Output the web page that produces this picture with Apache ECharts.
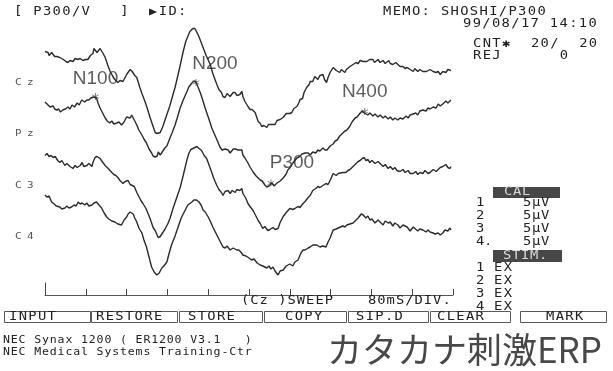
<!DOCTYPE html>
<html>
<head>
<meta charset="utf-8">
<title>P300 ERP</title>
<script src="https://cdn.jsdelivr.net/npm/echarts@6/dist/echarts.min.js"></script>
<style>
  html, body { margin: 0; padding: 0; background: #fff; }
  #chart { width: 613px; height: 371px; }
</style>
</head>
<body>
<div id="chart"></div>
<script>
// ---- recorded averages: [time ms, amplitude µV], negative drawn upward ----
const channels = ['Cz', 'Pz', 'C3', 'C4'];

const czTrace = [
  [0,-6.2],[3,-5.8],[6,-6.0],[8,-5.4],[10,-5.6],[13,-6.0],[16,-5.8],[19,-5.2],[23,-5.2],[26,-5.6],
  [29,-5.0],[32,-4.6],[36,-4.6],[38,-5.0],[41,-4.2],[43,-4.4],[45,-4.0],[47,-4.0],[49,-4.4],[52,-4.8],
  [55,-4.2],[57,-4.4],[59,-4.8],[62,-5.0],[64,-4.6],[67,-4.4],[69,-4.8],[72,-4.6],[74,-4.4],[76,-4.8],
  [79,-4.6],[82,-5.0],[84,-4.6],[86,-5.0],[89,-5.4],[92,-5.2],[94,-5.8],[96,-6.8],[98,-6.6],[102,-6.0],
  [104,-6.2],[108,-6.8],[111,-6.6],[114,-5.8],[118,-5.0],[124,-3.2],[127,-2.4],[133,-1.2],
  [137,-0.6],[143,0],[147,-0.4],[153,-0.2],[157,-1.0],[160,-1.6],[163,-2.0],[167,-2.6],[171,-2.2],[173,-2.0],
  [176,-1.4],[180,-1.0],[186,1.0],[190,2.2],[196,3.8],[200,5.0],[206,7.0],[210,8.2],[216,10.0],[220,10.2],
  [222,10.4],[226,10.0],[231,8.8],[235,7.6],[241,5.8],[245,4.6],[251,2.4],[255,1.0],[261,-1.6],[265,-3.4],
  [271,-6.2],[276,-8.2],[280,-9.2],[284,-10.2],[290,-10.8],[294,-10.8],[300,-9.6],[304,-8.6],[310,-7.0],[316,-5.4],
  [324,-3.6],[329,-1.8],[337,0.4],[341,1.4],[346,2.0],[349,2.8],[353,3.0],[357,2.2],[359,2.0],[363,2.8],
  [366,2.8],[369,2.0],[373,2.0],[376,2.6],[382,2.4],[386,1.8],[388,2.8],[392,3.8],[398,4.8],[402,5.4],
  [406,5.4],[412,6.0],[418,7.8],[422,8.2],[425,8.8],[429,8.6],[435,9.0],[438,8.4],[441,8.8],[445,8.4],
  [451,8.4],[455,7.6],[457,7.4],[461,7.4],[467,7.0],[473,6.2],[476,6.0],[480,6.2],[484,6.0],[488,5.2],
  [494,4.8],[498,4.0],[500,3.4],[503,3.0],[505,3.2],[508,2.0],[510,1.8],[513,1.0],[515,1.2],[518,0.4],
  [520,-0.2],[522,-0.6],[525,-0.2],[529,-1.2],[532,-0.8],[535,-0.6],[539,-1.4],[542,-1.0],[545,-1.6],[548,-0.6],
  [552,0],[555,-1.0],[559,-2.0],[562,-1.6],[565,-3.0],[568,-2.6],[571,-2.4],[574,-2.8],[578,-2.0],[581,-2.6],
  [584,-2.4],[588,-2.0],[591,-2.6],[594,-2.8],[598,-3.2],[601,-3.0],[604,-3.6],[607,-3.2],[610,-4.0],[614,-3.8],
  [618,-4.4],[621,-4.0],[624,-4.2],[627,-4.6],[631,-4.2],[634,-4.4],[637,-4.6],[640,-4.2],[643,-4.6],[646,-4.0],
  [649,-4.2],[653,-4.6],[657,-4.0],[660,-4.2],[663,-4.4],[667,-3.8],[670,-4.2],[674,-4.4],[677,-3.8],[680,-4.0],
  [682,-3.6],[685,-3.4],[688,-4.0],[692,-3.6],[696,-3.2],[699,-3.6],[702,-3.2],[706,-2.8],[710,-3.0],[713,-3.2],
  [716,-2.6],[719,-2.8],[722,-2.2],[725,-2.8],[727,-2.6],[731,-2.2],[735,-2.6],[738,-2.8],[741,-2.2],[744,-2.6],
  [748,-2.2],[751,-2.0],[755,-2.6],[758,-2.4],[761,-2.2],[764,-2.6],[767,-2.0],[771,-2.2],[775,-1.6],[778,-1.8],
  [780,-2.2],[783,-2.6],[786,-2.0],[788,-2.2],[790,-2.6],[793,-2.2],[796,-2.4]
];

const pzTrace = [
  [0,-6.4],[4,-6.0],[7,-6.2],[10,-5.4],[13,-5.8],[16,-5.6],[19,-5.0],[23,-4.8],[25,-5.2],[27,-5.0],
  [30,-4.4],[33,-4.2],[35,-4.8],[37,-4.6],[40,-5.0],[43,-4.8],[45,-5.4],[47,-5.4],[49,-5.0],[51,-5.2],
  [53,-5.8],[55,-5.8],[58,-5.4],[61,-5.6],[63,-6.2],[65,-6.2],[67,-5.8],[69,-6.2],[72,-6.8],[75,-6.6],
  [78,-6.4],[82,-6.8],[84,-7.2],[86,-6.8],[88,-7.0],[90,-7.2],[93,-7.0],[95,-7.4],
  [98,-7.8],[101,-7.2],[104,-6.2],[108,-5.2],[112,-4.4],[118,-3.2],[122,-2.6],[127,-2.2],[131,-2.6],[135,-2.0],
  [141,-2.2],[145,-2.4],[150,-1.8],[155,-2.4],[160,-3.4],[163,-3.8],[167,-3.2],[170,-3.8],[175,-2.8],[180,-1.8],
  [184,-0.8],[190,0.2],[194,1.0],[199,1.8],[204,3.0],[209,3.8],[212,4.4],[216,4.6],[220,4.4],[222,3.6],
  [226,4.2],[229,3.8],[235,2.8],[239,2.4],[245,0.8],[249,-0.2],[255,-1.8],[261,-3.8],[265,-5.2],[271,-6.8],
  [278,-8.4],[282,-9.4],[288,-10.2],[292,-10.6],[296,-10.4],[300,-9.4],[304,-8.4],[308,-7.2],[314,-5.2],[320,-3.4],
  [324,-2.2],[327,-1.2],[333,0.2],[339,1.6],[343,2.6],[347,3.2],[349,3.6],[353,3.0],[356,2.8],[359,3.2],
  [363,3.8],[366,3.8],[369,3.0],[373,3.0],[376,2.8],[379,3.2],[382,2.8],[386,3.2],[388,4.2],[392,4.8],
  [398,5.8],[402,6.6],[408,7.6],[414,8.4],[418,8.8],[422,9.2],[426,9.4],[431,10.2],[435,10.6],[439,10.4],
  [441,10.6],[445,9.8],[449,10.4],[451,10.2],[455,9.8],[457,9.6],[461,9.4],[467,8.8],[473,8.0],[476,7.2],
  [480,6.8],[486,5.8],[494,4.8],[498,4.6],[504,4.0],[510,3.8],[516,3.8],[520,4.2],[525,3.6],[531,3.8],
  [535,3.2],[539,3.4],[545,2.8],[549,3.2],[553,3.2],[559,2.4],[565,2.0],[569,1.4],[573,1.2],[578,0.4],
  [584,-0.2],[588,-0.6],[592,-0.8],[598,-1.6],[602,-2.4],[608,-3.2],[612,-3.4],[618,-4.2],[622,-4.6],[626,-4.2],
  [629,-4.4],[633,-3.8],[637,-4.2],[643,-3.6],[647,-4.0],[653,-3.4],[657,-3.8],[663,-3.2],[667,-3.6],[673,-3.0],
  [677,-3.4],[682,-2.8],[686,-3.2],[692,-2.8],[696,-3.2],[702,-3.0],[708,-3.6],[712,-3.2],[716,-3.8],[722,-4.0],
  [727,-4.2],[731,-3.8],[735,-4.6],[741,-4.8],[747,-4.6],[751,-5.2],[755,-5.0],[761,-5.4],[767,-5.2],[771,-6.0],
  [775,-5.6],[780,-6.0],[786,-6.6],[790,-6.2],[796,-6.8]
];

const c3Trace = [
  [0,-6.0],[4,-6.4],[8,-5.8],[12,-6.0],[16,-5.6],[20,-5.8],[25,-5.0],[29,-4.6],[33,-5.0],[39,-4.0],
  [43,-4.4],[49,-3.8],[55,-3.4],[59,-4.0],[63,-3.6],[69,-4.0],[73,-4.6],[76,-3.8],[82,-4.0],[86,-4.4],
  [92,-3.8],[94,-4.6],[98,-5.6],[102,-5.8],[108,-5.4],[112,-4.8],[118,-4.0],[124,-3.4],[131,-2.6],[135,-2.2],
  [139,-2.0],[143,-1.6],[147,-1.0],[153,-0.4],[157,-0.8],[160,-0.6],[163,-1.0],[167,-0.2],[170,-0.4],[175,0.2],
  [180,1.4],[184,2.2],[188,3.0],[192,3.6],[198,4.6],[202,5.6],[206,6.6],[212,8.4],[216,9.0],[222,10.4],
  [226,10.2],[231,9.4],[235,8.8],[241,7.6],[245,6.6],[251,4.6],[257,2.8],[261,1.6],[265,0.4],[271,-2.0],
  [278,-5.0],[282,-6.4],[286,-7.2],[290,-7.4],[294,-7.6],[298,-7.8],[302,-7.4],[307,-7.0],[312,-6.0],[317,-5.4],
  [322,-4.0],[327,-2.6],[331,-1.4],[337,0],[341,0.8],[346,1.4],[349,2.0],[353,1.2],[356,0.8],[359,1.0],
  [363,1.6],[367,1.0],[373,1.4],[376,0.8],[382,1.0],[386,0.6],[388,1.6],[394,2.6],[398,3.6],[402,4.2],
  [408,5.0],[412,5.8],[418,7.0],[422,7.6],[427,8.6],[431,8.2],[437,9.0],[441,8.8],[447,8.4],[451,8.8],
  [457,8.6],[461,7.4],[467,6.2],[473,5.4],[476,5.0],[480,4.6],[486,4.8],[490,4.6],[496,4.2],[500,4.4],
  [506,3.6],[510,3.2],[516,2.4],[520,2.0],[525,1.0],[531,0.6],[535,0.2],[539,0.4],[545,0],[551,-0.4],
  [555,-0.2],[559,-1.0],[565,-2.4],[571,-2.0],[575,-2.4],[578,-2.2],[584,-2.6],[590,-2.6],[594,-3.0],[598,-3.2],
  [604,-3.8],[608,-4.2],[614,-4.8],[618,-5.0],[622,-5.4],[626,-5.6],[629,-5.0],[633,-5.2],[637,-4.6],[641,-5.0],
  [647,-4.4],[653,-4.8],[657,-4.4],[663,-3.8],[667,-4.2],[673,-3.4],[677,-3.8],[682,-3.2],[686,-3.6],[690,-3.0],
  [696,-2.8],[702,-3.2],[706,-2.6],[712,-3.0],[716,-2.4],[722,-2.4],[727,-2.8],[731,-2.2],[735,-2.6],[741,-2.4],
  [745,-3.0],[751,-2.4],[755,-2.6],[761,-3.2],[767,-2.8],[771,-3.2],[775,-3.6],[780,-3.8],[786,-4.2],[790,-3.6],
  [794,-3.4],[796,-3.8]
];

const c4Trace = [
  [0,-8.4],[4,-8.0],[8,-8.2],[13,-7.0],[18,-6.6],[22,-6.2],[25,-5.8],[29,-6.0],[33,-5.6],[39,-5.8],
  [43,-6.2],[47,-5.8],[52,-6.0],[57,-6.4],[61,-6.2],[65,-7.0],[69,-6.6],[73,-6.8],[78,-6.4],[82,-6.8],
  [86,-6.2],[92,-6.4],[96,-6.8],[101,-7.0],[106,-6.4],[111,-5.8],[116,-4.8],[121,-4.0],[125,-3.6],[131,-3.2],
  [137,-3.0],[143,-2.6],[150,-2.4],[155,-3.4],[160,-4.0],[163,-4.6],[167,-5.0],[170,-5.4],[173,-4.6],[176,-3.8],
  [180,-3.0],[184,-1.8],[190,-0.8],[194,0.6],[199,2.0],[204,4.0],[209,6.0],[214,7.0],[219,7.6],[224,7.2],
  [229,6.2],[233,5.8],[239,5.0],[243,3.4],[248,1.6],[255,-0.2],[261,-2.0],[267,-3.8],[275,-5.4],[280,-6.4],
  [288,-7.0],[292,-7.4],[297,-7.4],[302,-7.0],[306,-6.4],[310,-5.4],[314,-5.0],[320,-4.0],[324,-3.2],[329,-2.0],
  [333,-1.2],[339,0],[343,0.8],[349,2.0],[353,2.2],[357,1.8],[363,2.6],[369,2.2],[376,2.6],[380,2.6],
  [384,3.0],[388,3.6],[394,3.8],[400,4.2],[405,4.6],[410,4.4],[416,5.2],[422,5.6],[427,5.8],[435,6.2],
  [439,5.8],[443,6.4],[447,6.0],[451,6.8],[457,7.6],[461,6.8],[467,6.6],[473,5.8],[476,6.2],[480,5.4],
  [486,5.8],[490,5.0],[496,4.6],[502,3.2],[506,2.6],[510,2.6],[516,2.2],[520,2.0],[525,1.6],[533,1.6],
  [539,2.0],[545,1.8],[551,2.0],[555,1.0],[559,0.2],[565,-1.4],[571,-1.6],[575,-1.8],[578,-2.0],[584,-2.2],
  [588,-2.0],[592,-2.4],[598,-2.6],[604,-2.8],[608,-3.2],[614,-3.8],[620,-4.6],[624,-4.4],[629,-3.8],[633,-4.2],
  [637,-3.4],[641,-3.6],[647,-2.8],[653,-3.4],[657,-3.0],[663,-2.4],[667,-3.2],[673,-2.8],[677,-3.0],[682,-2.2],
  [686,-2.8],[692,-2.4],[696,-1.8],[702,-2.4],[710,-2.0],[716,-1.2],[722,-2.0],[725,-1.8],[731,-1.2],[735,-1.6],
  [741,-1.4],[747,-1.0],[751,-1.4],[755,-1.0],[761,-0.8],[765,-0.6],[771,-0.8],[775,-0.4],[780,-0.8],[784,-1.4],
  [790,-1.2],[794,-1.8],[796,-1.4]
];

const traces = [czTrace, pzTrace, c3Trace, c4Trace];

// calibration bars: start level (µV) per channel, each bar is 5 µV tall
const calStart = [-3.0, -3.2, -2.6, -2.4];
const calSize = 5;
const calTime = 804;

// peak markers on the Pz average
const peakNames  = ['N100', 'N200', 'P300', 'N400'];
const peakTimes  = [99, 296, 443, 627];
const peakValues = [-7.5, -10.3, 9.8, -4.5];

// sweep: 10 divisions of 80 ms
const sweepDiv = 80;
const sweepLength = 800;

// calibration / stimulus panel
const calRows  = ['1', '2', '3', '4.'];
const calUnits = ['5µV', '5µV', '5µV', '5µV'];
const stimRows = ['1', '2', '3', '4'];
const stimMode = ['EX', 'EX', 'EX', 'EX'];

const buttons = ['INPUT', 'RESTORE', 'STORE', 'COPY', 'SIP.D', 'CLEAR', 'MARK'];

// ---- layout ----
const PLOT_LEFT = 45, PLOT_WIDTH = 408;
const baselineY = [82.5, 134, 185.5, 237];
const HALF_RANGE = 12;          // µV above/below baseline in each strip
const STRIP_HALF = 60;          // px  -> 5 px per µV
const INK = '#2b2b2b';
const MONO = '"DejaVu Sans Mono", monospace';

function mono(str, x, y, o) {
  o = o || {};
  const pitch = o.pitch || 9.65, size = o.size || 11.5, sx = o.sx || 1.2;
  const out = [];
  for (let i = 0; i < str.length; i++) {
    const ch = str[i];
    if (ch === ' ') continue;
    out.push({
      type: 'text', x: x + i * pitch, y: y, scaleX: sx, silent: true, z: o.z || 10,
      style: {
        text: ch, fontSize: size, fontFamily: MONO, fontWeight: o.weight || 'normal',
        fill: o.fill || '#222', textAlign: 'left', verticalAlign: 'middle', textVerticalAlign: 'middle'
      }
    });
  }
  return out;
}

const ASTERISK = 'path://M4.5,0L5.5,0L5.5,10L4.5,10Z' +
  'M9.08,7.93L0.42,2.93L0.92,2.07L9.58,7.07Z' +
  'M9.58,2.93L0.92,7.93L0.42,7.07L9.08,2.07Z';

const grids = [], xAxes = [], yAxes = [], series = [];
channels.forEach(function (ch, i) {
  grids.push({ left: PLOT_LEFT, width: PLOT_WIDTH, top: baselineY[i] - STRIP_HALF, height: STRIP_HALF * 2 });
  xAxes.push({ gridIndex: i, type: 'value', min: 0, max: sweepLength, show: false });
  yAxes.push({ gridIndex: i, type: 'value', min: -HALF_RANGE, max: HALF_RANGE, inverse: true, show: false });
  series.push({
    name: ch, type: 'line', xAxisIndex: i, yAxisIndex: i, data: traces[i],
    showSymbol: false, clip: false, silent: true,
    lineStyle: { color: INK, width: 1.4 }
  });
  series.push({
    name: ch + ' cal', type: 'line', xAxisIndex: i, yAxisIndex: i,
    data: [[calTime, calStart[i]], [calTime, calStart[i] + calSize]],
    showSymbol: false, clip: false, silent: true,
    lineStyle: { color: '#222', width: 2 }
  });
});

// sweep axis strip
const AX = channels.length;
grids.push({ left: PLOT_LEFT, width: PLOT_WIDTH, top: 283, height: 12 });
xAxes.push({
  gridIndex: AX, type: 'value', min: 0, max: sweepLength, interval: sweepDiv,
  axisLine: { show: true, lineStyle: { color: '#555', width: 1 } },
  axisTick: { show: true, inside: true, length: 6, lineStyle: { color: '#444', width: 1 } },
  axisLabel: { show: false }, splitLine: { show: false }
});
yAxes.push({
  gridIndex: AX, type: 'value', min: 0, max: 1,
  axisLine: { show: true, lineStyle: { color: '#444', width: 1 } },
  axisTick: { show: false }, axisLabel: { show: false }, splitLine: { show: false }
});

const labelOffsets = [[0, -18], [19, -19], [21, -20], [0, -20]];
series.push({
  name: 'peaks', type: 'scatter', xAxisIndex: 1, yAxisIndex: 1, clip: false, silent: true,
  symbol: ASTERISK, symbolSize: 7, itemStyle: { color: '#333' },
  data: peakNames.map(function (n, i) {
    return { name: n, value: [peakTimes[i], peakValues[i]], label: { offset: labelOffsets[i] } };
  }),
  label: {
    show: true, position: 'inside', formatter: '{b}',
    fontSize: 19, fontFamily: '"Liberation Sans", Arial, sans-serif', color: '#333'
  }
});

// ---- screen text ----
let g = [];
g = g.concat(mono('[ P300/V   ]  \u25B6ID:', 14, 12.5));
g = g.concat(mono('MEMO: SHOSHI/P300', 383, 12.5));
g = g.concat(mono('99/08/17 14:10', 463, 24));
g = g.concat(mono('CNT\u2731  20/  20', 473, 44));
g = g.concat(mono('REJ      0', 473, 56));

channels.forEach(function (ch, i) {
  g = g.concat(mono(ch, 15, baselineY[i], { size: 9.5, pitch: 12, sx: 1.15, fill: '#555' }));
});

g = g.concat(mono('(Cz )SWEEP', 241, 301, { pitch: 9.3 }));
g = g.concat(mono('80mS/DIV.', 368, 301, { pitch: 9.3 }));

// CAL block
g.push({ type: 'rect', shape: { x: 493, y: 187, width: 67, height: 11 }, style: { fill: '#474747' } });
g = g.concat(mono('CAL', 504, 192.5, { fill: '#d8d8d8', pitch: 9 }));
calRows.forEach(function (r, i) {
  g = g.concat(mono(r, 476, 203 + i * 13, { pitch: 8 }));
  g = g.concat(mono(calUnits[i], 523, 203 + i * 13, { pitch: 9 }));
});
g.push({ type: 'rect', shape: { x: 493, y: 250, width: 69, height: 12 }, style: { fill: '#474747' } });
g = g.concat(mono('STIM.', 503, 256, { fill: '#d8d8d8', pitch: 9 }));
stimRows.forEach(function (r, i) {
  g = g.concat(mono(r, 476, 268 + i * 13));
  g = g.concat(mono(stimMode[i], 494, 268 + i * 13));
});

// button bar
const btnBox = [[4, 86], [91, 86], [179, 83], [264, 82], [348, 80], [430, 80], [520, 86]];
const btnText = [9, 96, 188, 285, 356, 437, 546];
buttons.forEach(function (b, i) {
  g.push({
    type: 'rect', shape: { x: btnBox[i][0] + 0.5, y: 311.5, width: btnBox[i][1], height: 11 },
    style: { fill: 'none', stroke: '#5a5a5a', lineWidth: 1 }
  });
  g = g.concat(mono(b, btnText[i], 317));
});

// footer
g = g.concat(mono('NEC Synax 1200 ( ER1200 V3.1   )', 3, 340, { pitch: 7.8, size: 10.5, sx: 1.1 }));
g = g.concat(mono('NEC Medical Systems Training-Ctr', 3, 352, { pitch: 7.8, size: 10.5, sx: 1.1 }));
g.push({
  type: 'text', x: 327, y: 350, silent: true,
  style: {
    text: '\u30AB\u30BF\u30AB\u30CA\u523A\u6FC0ERP', fontSize: 35,
    fontFamily: '"Noto Sans CJK JP", sans-serif', fill: '#484848',
    textAlign: 'left', verticalAlign: 'middle', textVerticalAlign: 'middle'
  }
});

const chart = echarts.init(document.getElementById('chart'), null, { renderer: 'canvas' });
chart.setOption({
  backgroundColor: '#ffffff',
  animation: false,
  grid: grids,
  xAxis: xAxes,
  yAxis: yAxes,
  series: series,
  graphic: { elements: g }
});
</script>
</body>
</html>
